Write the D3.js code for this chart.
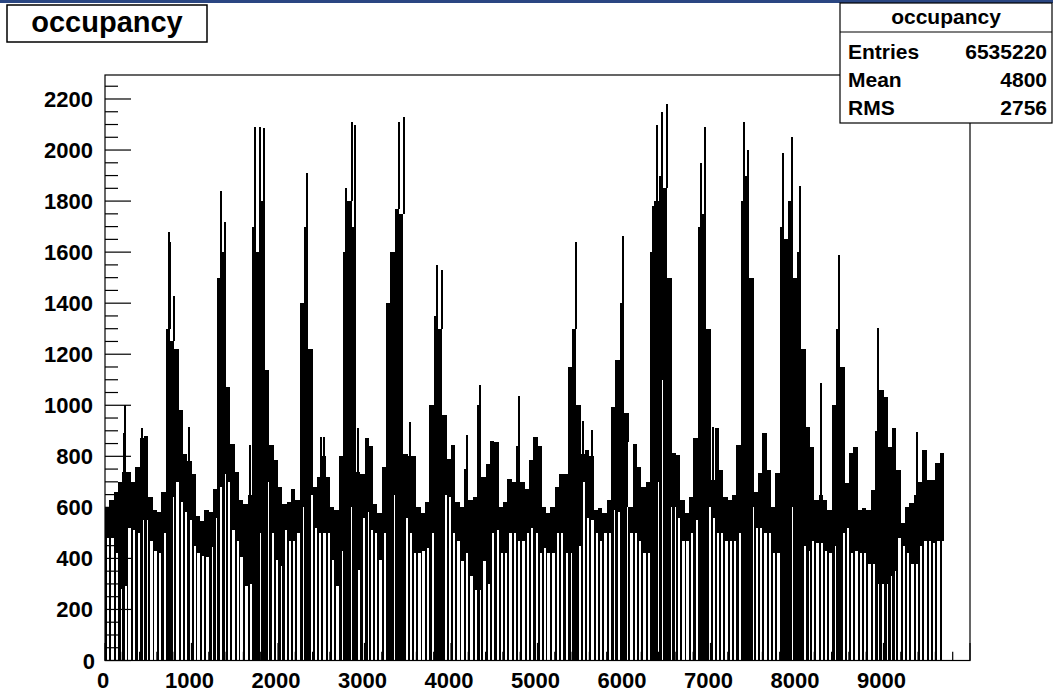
<!DOCTYPE html>
<html>
<head>
<meta charset="utf-8">
<script src="https://cdn.jsdelivr.net/npm/d3@7"></script>
<style>
body { margin: 0; background: #fff; }
svg text { font-family: "Liberation Sans", Arial, sans-serif; font-weight: bold; }
</style>
</head>
<body>
<svg id="hist" width="1053" height="693"></svg>
<script>
// histogram "occupancy" in slices of 50 channels
var sliceWidth = 50;
// upper edge of the solid band in each slice
var bandHigh = [600,630,660,700,740,740,700,760,870,880,640,590,580,660,1300,1250,1220,980,810,780,
730,565,545,590,580,670,1500,1600,1070,850,740,630,615,650,1700,1600,1800,1140,845,785,
680,615,620,670,630,1400,1700,1220,680,720,800,720,600,590,800,1600,1800,1700,740,730,
870,840,615,577,760,1400,1600,1770,1750,810,800,800,600,577,620,1000,1350,1300,960,790,
845,620,600,750,630,640,1000,720,770,860,855,600,620,710,700,840,700,670,785,875,
840,600,577,600,680,730,730,1150,1300,1000,810,825,800,590,597,577,629,995,1177,1400,
968,600,850,760,680,700,1600,1800,1900,1850,1500,812,805,629,577,642,870,1700,1750,1300,
707,910,747,642,629,648,844,1800,1900,1500,662,733,890,747,603,733,1700,1650,1800,1500,
1600,1220,916,838,629,650,629,590,1000,1300,1150,694,812,838,590,597,590,668,900,1060,
1034,838,910,747,538,603,616,650,700,825,707,707,773,812];
// lower edge of the band (smallest filled channel)
var bandLow = [480,480,420,280,290,520,510,500,550,550,470,430,420,500,650,640,700,620,580,550,
450,420,410,405,445,560,680,730,700,510,470,405,290,300,600,500,600,700,500,395,
370,510,470,470,500,600,600,650,520,500,500,500,395,290,430,600,600,600,355,560,
580,510,500,395,500,650,650,650,650,560,500,420,420,430,440,500,600,600,650,640,
500,470,390,420,330,275,275,390,300,500,510,420,420,500,500,470,470,500,520,500,
420,440,420,420,500,500,420,420,450,450,700,560,550,500,470,500,500,590,580,600,
600,500,500,470,420,420,600,700,1100,600,600,600,560,470,470,500,550,600,600,600,
560,500,500,470,470,470,500,600,600,600,520,520,500,500,420,420,600,600,600,500,
500,450,430,470,460,460,430,420,450,450,500,520,420,430,420,420,380,380,300,300,
300,330,350,480,450,420,380,380,450,470,470,460,470,470];
// number of empty channels in each slice
var emptyBins = [2,2,2,3,3,1,2,3,3,3,2,1,2,3,4,3,2,2,2,3,
2,1,2,2,3,3,3,3,2,2,2,1,2,2,4,4,4,3,3,2,
3,3,2,2,2,3,4,3,2,2,2,2,2,2,3,4,4,4,2,3,
3,2,2,2,2,4,4,4,4,3,2,2,2,1,2,3,4,4,3,2,
2,2,1,2,2,2,3,2,2,2,3,2,2,2,2,2,2,2,2,3,
2,2,1,2,2,2,3,3,4,3,2,2,2,2,2,2,2,3,3,4,
3,2,2,2,2,2,4,4,3,4,4,3,2,2,1,2,3,4,4,3,
2,2,2,2,2,2,3,4,4,4,2,2,2,2,2,2,4,4,4,4,
4,3,3,2,2,2,2,2,3,4,3,2,2,2,2,2,2,2,3,3,
3,3,3,2,2,2,2,2,2,2,2,2,2,2];
// single channels sticking out above the band
var spikeX =   [225,205,420,725,740,790,965,1330,1370,1670,1720,1780,1830,2320,2490,2520,2770,2840,2880,2915,
3385,3440,3520,3830,3880,4170,4320,4770,5430,5515,5620,5975,6040,6320,6370,6430,6480,6880,6930,7020,
7380,7420,7830,7930,8020,8270,8470,8920,9375];
var spikeVal = [1000,890,910,1680,1640,1430,915,1840,1720,845,2090,2090,2085,1910,875,877,1850,2110,2100,910,
2110,2130,936,1550,1530,885,1080,1035,1640,940,903,1665,857,1780,2100,2150,2180,1950,2090,916,
2110,2000,1990,2050,1860,1086,1590,1302,896];

var statLabels = ["Entries", "Mean", "RMS"];
var statValues = ["6535220", "4800", "2756"];
var histName = "occupancy";

var svg = d3.select("svg#hist");
var frameLeft = 105, frameRight = 970, frameTop = 75, frameBottom = 660.5;

var x = d3.scaleLinear().domain([0, 10000]).range([frameLeft, frameRight]);
var y = d3.scaleLinear().domain([0, 2294]).range([frameBottom, frameTop]);

function px(v) { return Math.round(x(v)); }

// blue strip of the canvas window
svg.append("rect").attr("x", 0).attr("y", 0).attr("width", 1053).attr("height", 3).attr("fill", "#2a4682");

var plot = svg.append("g").attr("shape-rendering", "crispEdges");

// empty channels: the line drops to zero and back
bandLow.forEach(function(lo, i) {
    var x0 = px(i * sliceWidth);
    for (var k = 0; k < emptyBins[i]; k++) {
        plot.append("line")
            .attr("x1", x0 + 0.5 + k).attr("x2", x0 + 0.5 + k)
            .attr("y1", y(0)).attr("y2", y(lo))
            .attr("stroke", "#000").attr("stroke-width", 1);
    }
});

// solid band where neighbouring channels fill every pixel
plot.selectAll("rect.band").data(bandHigh).enter().append("rect")
    .attr("class", "band")
    .attr("x", function(d, i) { return px(i * sliceWidth); })
    .attr("width", function(d, i) { return px((i + 1) * sliceWidth) - px(i * sliceWidth); })
    .attr("y", function(d) { return y(d); })
    .attr("height", function(d, i) { return y(bandLow[i]) - y(d); })
    .attr("fill", "#000");

plot.selectAll("line.spike").data(spikeX).enter().append("line")
    .attr("class", "spike")
    .attr("x1", function(d) { return px(d) + 0.5; })
    .attr("x2", function(d) { return px(d) + 0.5; })
    .attr("y1", function(d) { return y(bandHigh[Math.floor(d / sliceWidth)]); })
    .attr("y2", function(d, i) { return y(spikeVal[i]); })
    .attr("stroke", "#000").attr("stroke-width", 2);

// frame
svg.append("rect").attr("x", frameLeft).attr("y", frameTop)
    .attr("width", frameRight - frameLeft).attr("height", frameBottom - frameTop)
    .attr("fill", "none").attr("stroke", "#000").attr("stroke-width", 1.2);

// y axis ticks
var yTicks = d3.range(0, 2294, 50);
svg.selectAll("line.ytick").data(yTicks).enter().append("line")
    .attr("class", "ytick")
    .attr("x1", frameLeft)
    .attr("x2", function(d) { return frameLeft + (d % 200 == 0 ? 26 : 13); })
    .attr("y1", function(d) { return y(d); })
    .attr("y2", function(d) { return y(d); })
    .attr("stroke", "#000").attr("stroke-width", 1.2);
svg.selectAll("text.ylab").data(d3.range(0, 2201, 200)).enter().append("text")
    .attr("class", "ylab")
    .attr("x", function(d) { return d == 0 ? 95 : 93; })
    .attr("y", function(d) { return y(d) + 8; })
    .attr("text-anchor", "end")
    .attr("font-size", 22)
    .text(function(d) { return d; });

// x axis ticks
var xTicks = d3.range(0, 10001, 200);
svg.selectAll("line.xtick").data(xTicks).enter().append("line")
    .attr("class", "xtick")
    .attr("x1", function(d) { return x(d); })
    .attr("x2", function(d) { return x(d); })
    .attr("y1", frameBottom)
    .attr("y2", function(d) { return frameBottom - (d % 1000 == 0 ? 17.6 : 8.8); })
    .attr("stroke", "#000").attr("stroke-width", 1.2);
svg.selectAll("text.xlab").data(d3.range(0, 9001, 1000)).enter().append("text")
    .attr("class", "xlab")
    .attr("x", function(d) { return x(d) - 2; })
    .attr("y", 688)
    .attr("text-anchor", "middle")
    .attr("font-size", 22)
    .text(function(d) { return d; });

// title box
svg.append("rect").attr("x", 7).attr("y", 5).attr("width", 200).attr("height", 37)
    .attr("fill", "#fff").attr("stroke", "#000").attr("stroke-width", 1.5);
svg.append("text").attr("x", 107).attr("y", 32).attr("text-anchor", "middle")
    .attr("font-size", 29).text(histName);

// statistics box
var stats = svg.append("g");
stats.append("rect").attr("x", 840).attr("y", 3).attr("width", 212).attr("height", 120)
    .attr("fill", "#fff").attr("stroke", "#000").attr("stroke-width", 1.2);
stats.append("line").attr("x1", 840).attr("x2", 1052).attr("y1", 32).attr("y2", 32)
    .attr("stroke", "#000").attr("stroke-width", 1.2);
stats.append("text").attr("x", 946).attr("y", 24).attr("text-anchor", "middle")
    .attr("font-size", 21).text(histName);
statLabels.forEach(function(s, i) {
    stats.append("text").attr("x", 848).attr("y", 59 + i * 28).attr("font-size", 21).text(s);
    stats.append("text").attr("x", 1047).attr("y", 59 + i * 28).attr("text-anchor", "end")
        .attr("font-size", 21).text(statValues[i]);
});
</script>
</body>
</html>
